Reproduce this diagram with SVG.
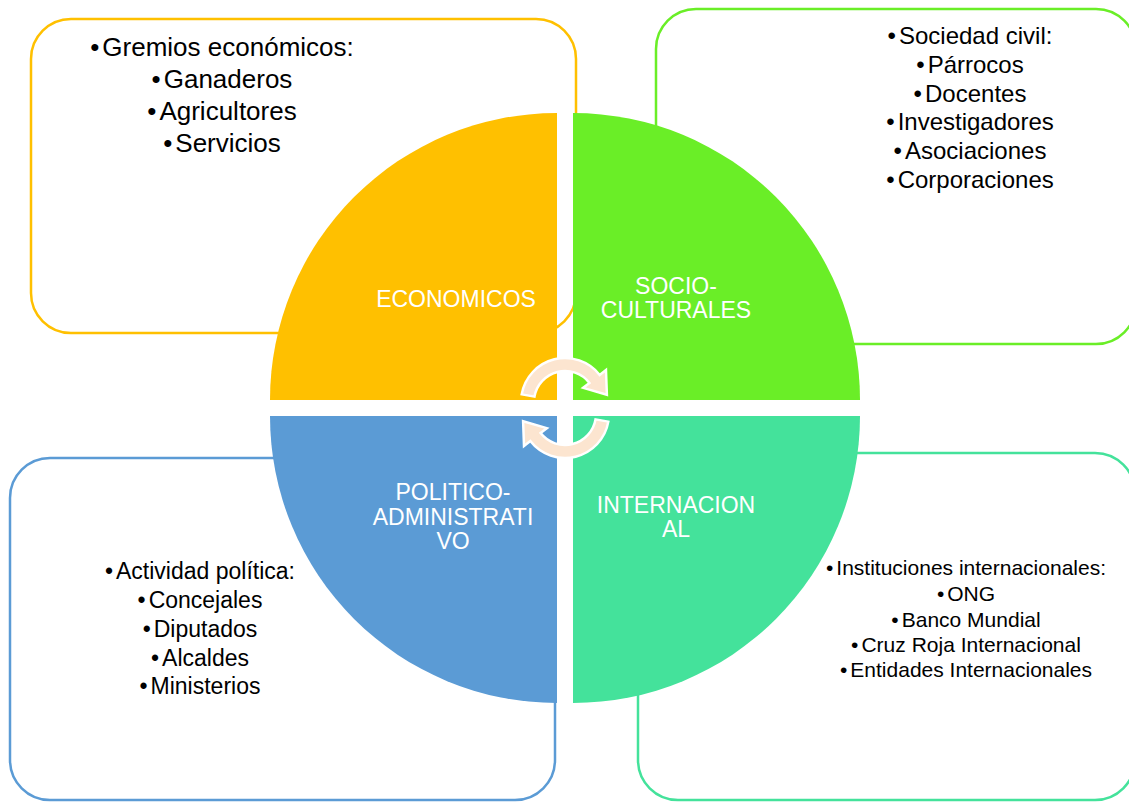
<svg xmlns="http://www.w3.org/2000/svg" width="1129" height="802" viewBox="0 0 1129 802">
<style>
.box{fill:#fff;stroke-width:2.5}
.t{font-family:"Liberation Sans",Arial,sans-serif;fill:#000;text-anchor:middle}
.q{font-family:"Liberation Sans",Arial,sans-serif;fill:#fff;text-anchor:middle;font-size:23px}
.arr{fill:#FCE5D0;stroke:#fff;stroke-width:2.5;stroke-linejoin:miter}
</style>
<defs>
<path id="circArrow" d="M521.67,394.36 A44,44 0 0 1 599.67,374.91 L605.98,369.98 L606.9,394.7 L583.12,387.84 L589.43,382.91 A31,31 0 0 0 534.47,396.62 Z"/>
</defs>
<rect width="1129" height="802" fill="#fff"/>
<g id="economicos">
<rect class="box" x="31" y="19" width="545" height="314" rx="40" stroke="#FFC000"/>
<path d="M557,400 L270,400 A287,287 0 0 1 557,113 Z" fill="#FFC000"/>
<text class="q" x="456" y="307">ECONOMICOS</text>
<text class="t" font-size="26"><tspan x="222" y="56">•<tspan dx="3">Gremios económicos:</tspan></tspan><tspan x="222" y="88">•<tspan dx="3">Ganaderos</tspan></tspan><tspan x="222" y="120">•<tspan dx="3">Agricultores</tspan></tspan><tspan x="222" y="152">•<tspan dx="3">Servicios</tspan></tspan></text>
</g>
<g id="socioculturales">
<rect class="box" x="656" y="9" width="480" height="335" rx="40" stroke="#6AEE27"/>
<path d="M573,400 L573,113 A287,287 0 0 1 860,400 Z" fill="#6AEE27"/>
<text class="q"><tspan x="676" y="294">SOCIO-</tspan><tspan x="676" y="318">CULTURALES</tspan></text>
<text class="t" font-size="24"><tspan x="970" y="44">•<tspan dx="3">Sociedad civil:</tspan></tspan><tspan x="970" y="72.8">•<tspan dx="3">Párrocos</tspan></tspan><tspan x="970" y="101.6">•<tspan dx="3">Docentes</tspan></tspan><tspan x="970" y="130.4">•<tspan dx="3">Investigadores</tspan></tspan><tspan x="970" y="159.2">•<tspan dx="3">Asociaciones</tspan></tspan><tspan x="970" y="188">•<tspan dx="3">Corporaciones</tspan></tspan></text>
</g>
<g id="politico">
<rect class="box" x="10" y="458" width="545" height="342" rx="40" stroke="#5B9BD5"/>
<path d="M557,416 L557,703 A287,287 0 0 1 270,416 Z" fill="#5B9BD5"/>
<text class="q"><tspan x="453" y="500">POLITICO-</tspan><tspan x="453" y="525">ADMINISTRATI</tspan><tspan x="453" y="549">VO</tspan></text>
<text class="t" font-size="23"><tspan x="200" y="579">•<tspan dx="3">Actividad política:</tspan></tspan><tspan x="200" y="608">•<tspan dx="3">Concejales</tspan></tspan><tspan x="200" y="637">•<tspan dx="3">Diputados</tspan></tspan><tspan x="200" y="666">•<tspan dx="3">Alcaldes</tspan></tspan><tspan x="200" y="694">•<tspan dx="3">Ministerios</tspan></tspan></text>
</g>
<g id="internacional">
<rect class="box" x="638" y="453" width="497" height="347" rx="40" stroke="#44E29B"/>
<path d="M573,416 L860,416 A287,287 0 0 1 573,703 Z" fill="#44E29B"/>
<text class="q"><tspan x="676" y="513">INTERNACION</tspan><tspan x="676" y="537">AL</tspan></text>
<text class="t" font-size="21"><tspan x="966" y="575">•<tspan dx="3">Instituciones internacionales:</tspan></tspan><tspan x="966" y="601">•<tspan dx="3">ONG</tspan></tspan><tspan x="966" y="627">•<tspan dx="3">Banco Mundial</tspan></tspan><tspan x="966" y="652">•<tspan dx="3">Cruz Roja Internacional</tspan></tspan><tspan x="966" y="677">•<tspan dx="3">Entidades Internacionales</tspan></tspan></text>
</g>
<g id="connectors">
<use href="#circArrow" class="arr"/>
<use href="#circArrow" class="arr" transform="rotate(180 565 408)"/>
</g>
</svg>
